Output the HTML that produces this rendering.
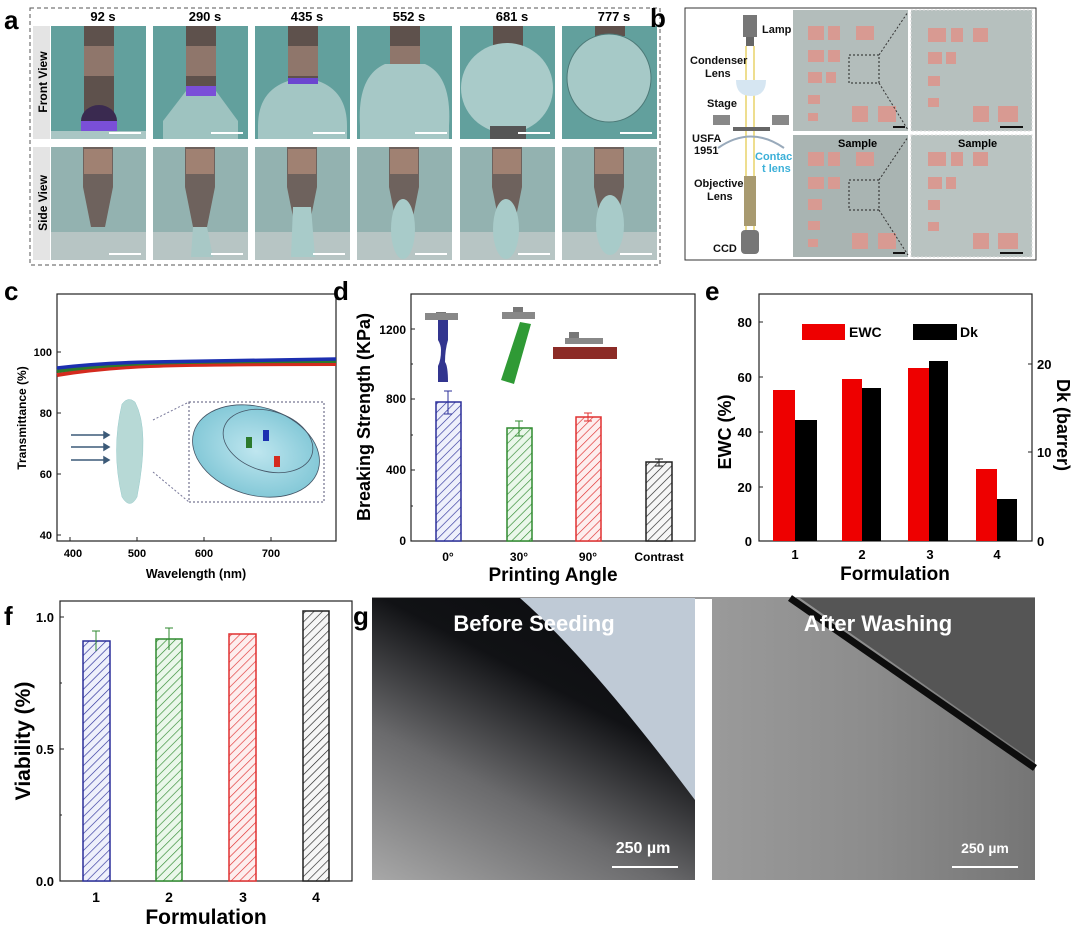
<!DOCTYPE html>
<html><head><meta charset="utf-8"><style>
html,body{margin:0;padding:0;background:#fff;}
svg{display:block;}
text{font-family:"Liberation Sans",Arial,sans-serif;font-weight:bold;}
</style></head><body>
<svg width="1080" height="929" viewBox="0 0 1080 929" xmlns="http://www.w3.org/2000/svg">
<defs>
<pattern id="hb" width="6" height="6" patternUnits="userSpaceOnUse" patternTransform="rotate(45)"><rect width="6" height="6" fill="#eef0fb"/><line x1="0" y1="0" x2="0" y2="6" stroke="#2b2f9a" stroke-width="1.3"/></pattern>
<pattern id="hg" width="6" height="6" patternUnits="userSpaceOnUse" patternTransform="rotate(45)"><rect width="6" height="6" fill="#eaf7ea"/><line x1="0" y1="0" x2="0" y2="6" stroke="#2f8a2f" stroke-width="1.3"/></pattern>
<pattern id="hr" width="6" height="6" patternUnits="userSpaceOnUse" patternTransform="rotate(45)"><rect width="6" height="6" fill="#fdeeee"/><line x1="0" y1="0" x2="0" y2="6" stroke="#e03030" stroke-width="1.3"/></pattern>
<pattern id="hk" width="6" height="6" patternUnits="userSpaceOnUse" patternTransform="rotate(45)"><rect width="6" height="6" fill="#f6f6f6"/><line x1="0" y1="0" x2="0" y2="6" stroke="#222" stroke-width="1.3"/></pattern>
<linearGradient id="gl2" x1="0" y1="1" x2="0.6" y2="0"><stop offset="0" stop-color="#a8a8a8"/><stop offset="0.4" stop-color="#6a6a6c"/><stop offset="0.75" stop-color="#111215"/><stop offset="1" stop-color="#0c0d10"/></linearGradient>
<linearGradient id="gr" x1="0" y1="0" x2="1" y2="0"><stop offset="0" stop-color="#9a9a9a"/><stop offset="0.5" stop-color="#8c8c8c"/><stop offset="1" stop-color="#757575"/></linearGradient>
<radialGradient id="lens" cx="0.5" cy="0.5" r="0.6"><stop offset="0" stop-color="#bfe6ef"/><stop offset="1" stop-color="#79c3d3"/></radialGradient>
<g id="front"><rect width="95" height="113" fill="#62a09d"/><rect x="33" y="0" width="30" height="113" fill="#5e514c"/><rect x="33" y="20" width="30" height="30" fill="#b08f80" opacity="0.6"/></g>
<g id="side"><rect width="95" height="113" fill="#93b2b0"/><rect y="85" width="95" height="28" fill="#b7c5c4"/><path d="M32 0 H62 V40 L54 80 H40 L32 40 Z" fill="#6e625d"/><rect x="33" y="2" width="28" height="25" fill="#b58e7c" opacity="0.7"/></g>
</defs>

<!-- Panel a -->
<text x="4" y="29" font-size="26" fill="#000">a</text>
<rect x="30" y="8" width="630" height="257" fill="none" stroke="#555" stroke-dasharray="4,3"/>
<rect x="33" y="26" width="17" height="113" fill="#e4e4e4"/>
<rect x="33" y="147" width="17" height="113" fill="#e4e4e4"/>
<text transform="translate(47,82) rotate(-90)" font-size="12" text-anchor="middle">Front View</text>
<text transform="translate(47,203) rotate(-90)" font-size="12" text-anchor="middle">Side View</text>
<g font-size="13" text-anchor="middle">
<text x="103" y="21">92 s</text><text x="205" y="21">290 s</text><text x="307" y="21">435 s</text><text x="409" y="21">552 s</text><text x="512" y="21">681 s</text><text x="614" y="21">777 s</text></g>
<g transform="translate(51,26)"><use href="#front"/><ellipse cx="48" cy="95" rx="18" ry="16" fill="#3a2a50"/><rect x="30" y="95" width="36" height="12" fill="#7a4fd8"/><rect x="0" y="105" width="95" height="8" fill="#a9c6c4"/><line x1="58" y1="107" x2="90" y2="107" stroke="#fff" stroke-width="2"/></g>
<g transform="translate(153,26)"><use href="#front"/><path d="M33 65 H63 L85 95 V113 H10 V95 Z" fill="#9ec3c0"/><rect x="33" y="60" width="30" height="10" fill="#7a4fd8"/><line x1="58" y1="107" x2="90" y2="107" stroke="#fff" stroke-width="2"/></g>
<g transform="translate(255,26)"><use href="#front"/><path d="M33 55 H63 Q92 65 92 100 V113 H3 V100 Q3 65 33 55 Z" fill="#a3c6c4"/><rect x="33" y="52" width="30" height="6" fill="#6b46d0"/><line x1="58" y1="107" x2="90" y2="107" stroke="#fff" stroke-width="2"/></g>
<g transform="translate(357,26)"><use href="#front"/><path d="M28 38 H68 Q95 50 92 100 V113 H3 V100 Q0 50 28 38 Z" fill="#a6c8c6"/><line x1="58" y1="107" x2="90" y2="107" stroke="#fff" stroke-width="2"/></g>
<g transform="translate(460,26)"><use href="#front"/><ellipse cx="47" cy="62" rx="46" ry="45" fill="#a9cbc9"/><rect x="30" y="100" width="36" height="13" fill="#555"/><line x1="58" y1="107" x2="90" y2="107" stroke="#fff" stroke-width="2"/></g>
<g transform="translate(562,26)"><rect width="95" height="113" fill="#62a09d"/><rect x="33" y="0" width="30" height="10" fill="#5e514c"/><ellipse cx="47" cy="52" rx="42" ry="44" fill="#a6c9c7" stroke="#4d7a78"/><line x1="58" y1="107" x2="90" y2="107" stroke="#fff" stroke-width="2"/></g>
<g transform="translate(51,147)"><use href="#side"/><line x1="58" y1="107" x2="90" y2="107" stroke="#fff" stroke-width="2"/></g>
<g transform="translate(153,147)"><use href="#side"/><path d="M40 80 H54 L60 110 H38 Z" fill="#a8c8c6"/><line x1="58" y1="107" x2="90" y2="107" stroke="#fff" stroke-width="2"/></g>
<g transform="translate(255,147)"><use href="#side"/><path d="M38 60 H56 L60 110 H36 Z" fill="#a8cbc9"/><line x1="58" y1="107" x2="90" y2="107" stroke="#fff" stroke-width="2"/></g>
<g transform="translate(357,147)"><use href="#side"/><ellipse cx="46" cy="82" rx="12" ry="30" fill="#a8cbc9"/><line x1="58" y1="107" x2="90" y2="107" stroke="#fff" stroke-width="2"/></g>
<g transform="translate(460,147)"><use href="#side"/><ellipse cx="46" cy="82" rx="13" ry="30" fill="#a8cbc9"/><line x1="58" y1="107" x2="90" y2="107" stroke="#fff" stroke-width="2"/></g>
<g transform="translate(562,147)"><use href="#side"/><ellipse cx="48" cy="78" rx="14" ry="30" fill="#a8cbc9"/><line x1="58" y1="107" x2="90" y2="107" stroke="#fff" stroke-width="2"/></g>

<!-- Panel b -->
<text x="650" y="27" font-size="26">b</text>
<rect x="685" y="8" width="351" height="252" fill="#fff" stroke="#333"/>
<g font-size="11" fill="#111">
<rect x="743" y="15" width="14" height="22" fill="#777"/><rect x="746" y="37" width="8" height="9" fill="#666"/>
<text x="762" y="33">Lamp</text>
<line x1="746" y1="46" x2="746" y2="240" stroke="#e8d36a" stroke-width="1.5"/><line x1="754" y1="46" x2="754" y2="240" stroke="#e8d36a" stroke-width="1.5"/>
<text x="690" y="64">Condenser</text><text x="705" y="77">Lens</text>
<path d="M736 80 H766 Q766 96 751 96 Q736 96 736 80 Z" fill="#d6e6f2"/>
<text x="707" y="107">Stage</text>
<rect x="713" y="115" width="17" height="10" fill="#888"/><rect x="772" y="115" width="17" height="10" fill="#888"/>
<rect x="733" y="127" width="37" height="4" fill="#666"/>
<text x="692" y="142">USFA</text><text x="694" y="154">1951</text>
<path d="M718 148 Q751 125 784 148" fill="none" stroke="#9ab" stroke-width="2"/>
<text x="755" y="160" fill="#3cb0d8">Contac</text><text x="762" y="172" fill="#3cb0d8">t lens</text>
<text x="694" y="187">Objective</text><text x="707" y="200">Lens</text>
<rect x="744" y="176" width="12" height="50" fill="#a89a70"/>
<rect x="741" y="230" width="18" height="24" rx="4" fill="#777"/>
<text x="713" y="252">CCD</text>
</g>
<g>
<rect x="793" y="10" width="115" height="121" fill="#b3bdbb"/>
<rect x="911" y="10" width="121" height="121" fill="#b6c0be" stroke="#ddd" stroke-dasharray="2,2"/>
<rect x="793" y="135" width="115" height="122" fill="#a9b4b2"/>
<rect x="911" y="135" width="121" height="122" fill="#b9c3c1" stroke="#ddd" stroke-dasharray="2,2"/>
<g fill="#d89a92">
<rect x="808" y="26" width="16" height="14"/><rect x="828" y="26" width="12" height="14"/><rect x="856" y="26" width="18" height="14"/>
<rect x="808" y="50" width="16" height="12"/><rect x="828" y="50" width="12" height="12"/>
<rect x="808" y="72" width="14" height="11"/><rect x="826" y="72" width="10" height="11"/>
<rect x="808" y="95" width="12" height="9"/><rect x="808" y="113" width="10" height="8"/>
<rect x="852" y="106" width="16" height="16"/><rect x="878" y="106" width="18" height="16"/>
<rect x="928" y="28" width="18" height="14"/><rect x="951" y="28" width="12" height="14"/><rect x="973" y="28" width="15" height="14"/>
<rect x="928" y="52" width="14" height="12"/><rect x="946" y="52" width="10" height="12"/>
<rect x="928" y="76" width="12" height="10"/><rect x="928" y="98" width="11" height="9"/>
<rect x="973" y="106" width="16" height="16"/><rect x="998" y="106" width="20" height="16"/>
<rect x="808" y="152" width="16" height="14"/><rect x="828" y="152" width="12" height="14"/><rect x="856" y="152" width="18" height="14"/>
<rect x="808" y="177" width="16" height="12"/><rect x="828" y="177" width="12" height="12"/>
<rect x="808" y="199" width="14" height="11"/><rect x="808" y="221" width="12" height="9"/><rect x="808" y="239" width="10" height="8"/>
<rect x="852" y="233" width="16" height="16"/><rect x="878" y="233" width="18" height="16"/>
<rect x="928" y="152" width="18" height="14"/><rect x="951" y="152" width="12" height="14"/><rect x="973" y="152" width="15" height="14"/>
<rect x="928" y="177" width="14" height="12"/><rect x="946" y="177" width="10" height="12"/>
<rect x="928" y="200" width="12" height="10"/><rect x="928" y="222" width="11" height="9"/>
<rect x="973" y="233" width="16" height="16"/><rect x="998" y="233" width="20" height="16"/>
</g>
<rect x="849" y="55" width="30" height="28" fill="none" stroke="#222" stroke-dasharray="2,2"/>
<rect x="849" y="180" width="30" height="30" fill="none" stroke="#222" stroke-dasharray="2,2"/>
<line x1="879" y1="55" x2="908" y2="12" stroke="#333" stroke-dasharray="2,2"/><line x1="879" y1="83" x2="908" y2="130" stroke="#333" stroke-dasharray="2,2"/>
<line x1="879" y1="180" x2="908" y2="137" stroke="#333" stroke-dasharray="2,2"/><line x1="879" y1="210" x2="908" y2="255" stroke="#333" stroke-dasharray="2,2"/>
<text x="838" y="147" font-size="11">Sample</text><text x="958" y="147" font-size="11">Sample</text>
<g stroke="#111" stroke-width="2"><line x1="893" y1="127" x2="905" y2="127"/><line x1="1000" y1="127" x2="1023" y2="127"/><line x1="893" y1="253" x2="905" y2="253"/><line x1="1000" y1="253" x2="1023" y2="253"/></g>
</g>

<!-- Panel c -->
<text x="4" y="300" font-size="26">c</text>
<rect x="57" y="294" width="279" height="247" fill="#fff" stroke="#222" stroke-width="1.2"/>
<g font-size="11" text-anchor="end">
<text x="52" y="356">100</text><text x="52" y="417">80</text><text x="52" y="478">60</text><text x="52" y="539">40</text></g>
<g stroke="#222"><line x1="57" y1="352" x2="61" y2="352"/><line x1="57" y1="413" x2="61" y2="413"/><line x1="57" y1="474" x2="61" y2="474"/><line x1="57" y1="535" x2="61" y2="535"/>
<line x1="70" y1="541" x2="70" y2="537"/><line x1="137" y1="541" x2="137" y2="537"/><line x1="204" y1="541" x2="204" y2="537"/><line x1="271" y1="541" x2="271" y2="537"/></g>
<g font-size="11" text-anchor="middle"><text x="73" y="557">400</text><text x="137" y="557">500</text><text x="204" y="557">600</text><text x="271" y="557">700</text></g>
<text x="196" y="578" font-size="12.5" text-anchor="middle">Wavelength (nm)</text>
<text transform="translate(26,418) rotate(-90)" font-size="12" text-anchor="middle">Transmittance (%)</text>
<path d="M57 375 Q100 368 150 366 T336 364" fill="none" stroke="#d42a1e" stroke-width="4"/>
<path d="M57 371 Q100 365 150 363 T336 361" fill="none" stroke="#2c7a2c" stroke-width="4"/>
<path d="M57 368 Q100 363 150 362 T336 359" fill="none" stroke="#1c2fb0" stroke-width="3.5"/>
<path d="M135 402 Q150 430 137 497 Q130 510 122 497 Q111 450 122 404 Q128 396 135 402 Z" fill="#b7d9d6" stroke="#9cc" stroke-width="0.5"/>
<g stroke="#3c5a78" stroke-width="1.5" fill="#3c5a78"><line x1="71" y1="435" x2="104" y2="435"/><line x1="71" y1="447" x2="104" y2="447"/><line x1="71" y1="460" x2="104" y2="460"/>
<path d="M104 432 L109 435 L104 438 Z"/><path d="M104 444 L109 447 L104 450 Z"/><path d="M104 457 L109 460 L104 463 Z"/></g>
<rect x="189" y="402" width="135" height="100" fill="none" stroke="#557" stroke-dasharray="2,2"/>
<line x1="153" y1="420" x2="189" y2="402" stroke="#779" stroke-dasharray="2,2"/><line x1="153" y1="472" x2="189" y2="502" stroke="#779" stroke-dasharray="2,2"/>
<ellipse cx="256" cy="451" rx="65" ry="44" transform="rotate(17 256 451)" fill="url(#lens)" stroke="#456" stroke-width="0.8"/>
<ellipse cx="268" cy="441" rx="46" ry="30" transform="rotate(17 268 441)" fill="none" stroke="#456" stroke-width="0.8"/>
<rect x="246" y="437" width="6" height="11" fill="#2c7a2c"/><rect x="263" y="430" width="6" height="11" fill="#1c2fb0"/><rect x="274" y="456" width="6" height="11" fill="#d42a1e"/>

<!-- Panel d -->
<text x="333" y="300" font-size="26">d</text>
<rect x="411" y="294" width="284" height="247" fill="#fff" stroke="#222" stroke-width="1.2"/>
<g font-size="12" text-anchor="end"><text x="406" y="334">1200</text><text x="406" y="403">800</text><text x="406" y="474">400</text><text x="406" y="545">0</text></g>
<g stroke="#222"><line x1="411" y1="329" x2="415" y2="329"/><line x1="411" y1="399" x2="415" y2="399"/><line x1="411" y1="470" x2="415" y2="470"/><line x1="411" y1="506" x2="413" y2="506"/><line x1="411" y1="435" x2="413" y2="435"/><line x1="411" y1="364" x2="413" y2="364"/></g>
<rect x="436" y="402" width="25" height="139" fill="url(#hb)" stroke="#2b2f9a" stroke-width="1.5"/>
<rect x="507" y="428" width="25" height="113" fill="url(#hg)" stroke="#2f8a2f" stroke-width="1.5"/>
<rect x="576" y="417" width="25" height="124" fill="url(#hr)" stroke="#e03030" stroke-width="1.5"/>
<rect x="646" y="462" width="26" height="79" fill="url(#hk)" stroke="#222" stroke-width="1.5"/>
<g stroke-width="1"><path d="M448 391 V414 M444 391 H452 M444 414 H452" stroke="#2b2f9a"/><path d="M519 421 V436 M515 421 H523 M515 436 H523" stroke="#2f8a2f"/><path d="M588 413 V421 M584 413 H592 M584 421 H592" stroke="#e03030"/><path d="M659 459 V466 M655 459 H663 M655 466 H663" stroke="#222"/></g>
<g font-size="12" text-anchor="middle"><text x="448" y="561">0°</text><text x="519" y="561">30°</text><text x="588" y="561">90°</text><text x="659" y="561">Contrast</text></g>
<text x="553" y="581" font-size="19" text-anchor="middle">Printing Angle</text>
<text transform="translate(370,417) rotate(-90)" font-size="18" text-anchor="middle">Breaking Strength (KPa)</text>
<rect x="436" y="312" width="10" height="8" fill="#777"/><rect x="425" y="313" width="33" height="7" fill="#888"/>
<path d="M438 320 H448 V340 Q445 350 445 362 Q448 366 448 382 H438 V366 Q441 360 441 350 Q441 345 438 340 Z" fill="#32358f"/>
<rect x="513" y="307" width="10" height="7" fill="#777"/><rect x="502" y="312" width="33" height="7" fill="#888"/>
<path d="M520 322 L531 324 L514 384 L501 380 Z" fill="#2f9a35"/>
<rect x="569" y="332" width="10" height="8" fill="#777"/><rect x="565" y="338" width="38" height="6" fill="#888"/>
<rect x="553" y="347" width="64" height="12" fill="#8c2b26"/>

<!-- Panel e -->
<text x="705" y="300" font-size="26">e</text>
<rect x="759" y="294" width="273" height="247" fill="#fff" stroke="#222" stroke-width="1.2"/>
<g font-size="13" text-anchor="end"><text x="752" y="327">80</text><text x="752" y="382">60</text><text x="752" y="437">40</text><text x="752" y="492">20</text><text x="752" y="546">0</text></g>
<g stroke="#222"><line x1="759" y1="322" x2="763" y2="322"/><line x1="759" y1="377" x2="763" y2="377"/><line x1="759" y1="432" x2="763" y2="432"/><line x1="759" y1="487" x2="763" y2="487"/>
<line x1="1032" y1="364" x2="1028" y2="364"/><line x1="1032" y1="452" x2="1028" y2="452"/></g>
<g font-size="13"><text x="1037" y="369">20</text><text x="1037" y="457">10</text><text x="1037" y="546">0</text></g>
<g fill="#ee0000"><rect x="773" y="390" width="22" height="151"/><rect x="842" y="379" width="20" height="162"/><rect x="908" y="368" width="21" height="173"/><rect x="976" y="469" width="21" height="72"/></g>
<g fill="#000"><rect x="795" y="420" width="22" height="121"/><rect x="862" y="388" width="19" height="153"/><rect x="929" y="361" width="19" height="180"/><rect x="997" y="499" width="20" height="42"/></g>
<g font-size="13" text-anchor="middle"><text x="795" y="559">1</text><text x="862" y="559">2</text><text x="930" y="559">3</text><text x="997" y="559">4</text></g>
<text x="895" y="580" font-size="19" text-anchor="middle">Formulation</text>
<rect x="802" y="324" width="43" height="16" fill="#ee0000"/><text x="849" y="337" font-size="14">EWC</text>
<rect x="913" y="324" width="44" height="16" fill="#000"/><text x="960" y="337" font-size="14">Dk</text>
<text transform="translate(731,432) rotate(-90)" font-size="18" text-anchor="middle">EWC (%)</text>
<text transform="translate(1057,425) rotate(90)" font-size="18" text-anchor="middle">Dk (barrer)</text>

<!-- Panel f -->
<text x="4" y="625" font-size="26">f</text>
<rect x="60" y="601" width="292" height="280" fill="#fff" stroke="#222" stroke-width="1.2"/>
<g font-size="13" text-anchor="end"><text x="54" y="622">1.0</text><text x="54" y="754">0.5</text><text x="54" y="886">0.0</text></g>
<g stroke="#222"><line x1="60" y1="617" x2="64" y2="617"/><line x1="60" y1="749" x2="64" y2="749"/><line x1="60" y1="683" x2="62" y2="683"/><line x1="60" y1="815" x2="62" y2="815"/></g>
<rect x="83" y="641" width="27" height="240" fill="url(#hb)" stroke="#2b2f9a" stroke-width="1.5"/>
<rect x="156" y="639" width="26" height="242" fill="url(#hg)" stroke="#2f8a2f" stroke-width="1.5"/>
<rect x="229" y="634" width="27" height="247" fill="url(#hr)" stroke="#e03030" stroke-width="1.5"/>
<rect x="303" y="611" width="26" height="270" fill="url(#hk)" stroke="#222" stroke-width="1.5"/>
<path d="M96 631 V651 M92 631 H100 M169 628 V650 M165 628 H173" stroke="#2f8a2f" stroke-width="1"/>
<g font-size="14" text-anchor="middle"><text x="96" y="902">1</text><text x="169" y="902">2</text><text x="243" y="902">3</text><text x="316" y="902">4</text></g>
<text x="206" y="924" font-size="21" text-anchor="middle">Formulation</text>
<text transform="translate(30,741) rotate(-90)" font-size="21" text-anchor="middle">Viability (%)</text>

<!-- Panel g -->
<text x="353" y="625" font-size="26">g</text>
<line x1="372" y1="598" x2="1035" y2="598" stroke="#333"/>
<rect x="372" y="598" width="323" height="282" fill="url(#gl2)"/>
<path d="M520 598 Q590 660 695 800 V598 Z" fill="#bfcad6"/>
<rect x="712" y="598" width="323" height="282" fill="url(#gr)"/>
<path d="M800 598 H1035 V762 Z" fill="#555"/>
<line x1="790" y1="598" x2="1035" y2="768" stroke="#0d0d0d" stroke-width="7"/>
<text x="534" y="631" font-size="22" fill="#fff" text-anchor="middle">Before Seeding</text>
<text x="878" y="631" font-size="22" fill="#fff" text-anchor="middle">After Washing</text>
<text x="643" y="853" font-size="16" fill="#fff" text-anchor="middle">250 µm</text>
<line x1="612" y1="867" x2="678" y2="867" stroke="#fff" stroke-width="2"/>
<text x="985" y="853" font-size="14" fill="#fff" text-anchor="middle">250 µm</text>
<line x1="952" y1="867" x2="1018" y2="867" stroke="#fff" stroke-width="2"/>
</svg>
</body></html>
